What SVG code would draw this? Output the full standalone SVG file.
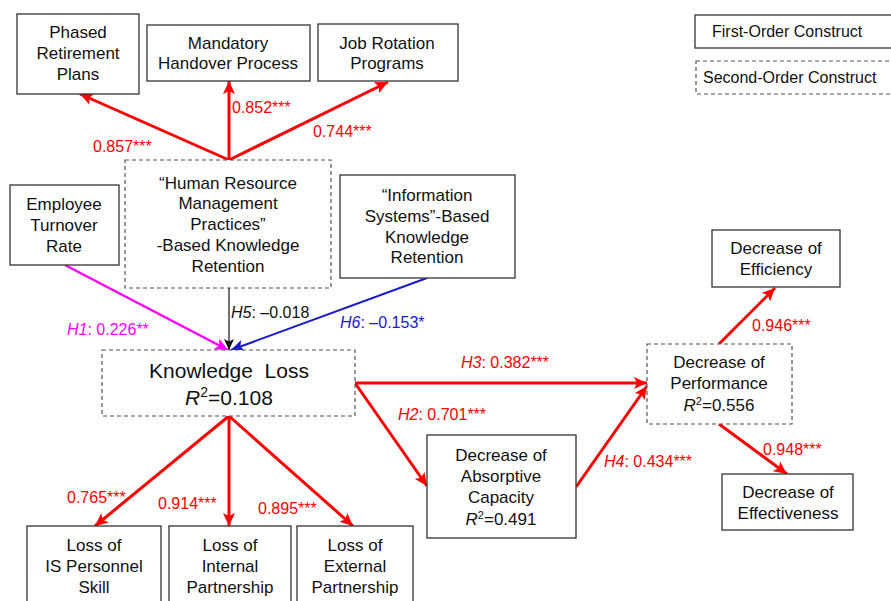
<svg xmlns="http://www.w3.org/2000/svg" width="891" height="601" viewBox="0 0 891 601">
<style>
text{font-family:"Liberation Sans",Arial,Helvetica,sans-serif;fill:#111}
.n{font-size:17px;text-anchor:middle}
.lg{font-size:16px}
.box{fill:#fff;stroke:#333;stroke-width:1.3}
.dbox{fill:#fff;stroke:#555;stroke-width:1.2;stroke-dasharray:4 3}
.lbl{font-size:16px}
.red{fill:#ff0000}
.mag{fill:#ff00ff}
.blu{fill:#1a1acc}
.blk{fill:#111}
.big{font-size:21px;text-anchor:middle}
.r{stroke:#ff0000;stroke-width:3;fill:none}
</style>
<defs>
<marker id="ar" markerUnits="userSpaceOnUse" markerWidth="14" markerHeight="12" refX="13" refY="6" orient="auto"><path d="M0,0 L13,6 L0,12 L3,6 Z" fill="#ff0000"/></marker>
<marker id="am" markerUnits="userSpaceOnUse" markerWidth="14" markerHeight="12" refX="13" refY="6" orient="auto"><path d="M0,0 L13,6 L0,12 L3,6 Z" fill="#ff00ff"/></marker>
<marker id="ab" markerUnits="userSpaceOnUse" markerWidth="14" markerHeight="12" refX="13" refY="6" orient="auto"><path d="M0,0 L13,6 L0,12 L3,6 Z" fill="#1a1acc"/></marker>
<marker id="ak" markerUnits="userSpaceOnUse" markerWidth="12" markerHeight="10" refX="11" refY="5" orient="auto"><path d="M0,0 L11,5 L0,10 L2.5,5 Z" fill="#111"/></marker>
</defs>

<g id="connectors">
<line class="r" x1="229" y1="160" x2="80" y2="94" marker-end="url(#ar)"/>
<line class="r" x1="229" y1="160" x2="229" y2="81" marker-end="url(#ar)"/>
<line class="r" x1="229" y1="160" x2="388" y2="82" marker-end="url(#ar)"/>
<line x1="65" y1="265" x2="228" y2="350" stroke="#ff00ff" stroke-width="2.5" marker-end="url(#am)"/>
<line x1="229" y1="288" x2="229" y2="350" stroke="#111" stroke-width="1.2" marker-end="url(#ak)"/>
<line x1="427" y1="278" x2="231" y2="350" stroke="#1a1acc" stroke-width="2" marker-end="url(#ab)"/>
<line class="r" x1="229" y1="416" x2="95" y2="526" marker-end="url(#ar)"/>
<line class="r" x1="229" y1="416" x2="229" y2="526" marker-end="url(#ar)"/>
<line class="r" x1="229" y1="416" x2="353" y2="526" marker-end="url(#ar)"/>
<line class="r" x1="355" y1="383" x2="647" y2="383" marker-end="url(#ar)"/>
<line class="r" x1="355" y1="383" x2="427" y2="486" marker-end="url(#ar)"/>
<line class="r" x1="576" y1="487" x2="647" y2="386" marker-end="url(#ar)"/>
<line class="r" x1="719" y1="344" x2="775" y2="288" marker-end="url(#ar)"/>
<line class="r" x1="719" y1="424" x2="787" y2="474" marker-end="url(#ar)"/>
</g>

<g id="labels">
<text class="lbl red" x="93" y="152">0.857***</text>
<text class="lbl red" x="232" y="113">0.852***</text>
<text class="lbl red" x="313" y="137">0.744***</text>
<text class="lbl mag" x="67" y="335"><tspan font-style="italic">H1</tspan>: 0.226**</text>
<text class="lbl blk" x="231" y="318"><tspan font-style="italic">H5</tspan>: –0.018</text>
<text class="lbl blu" x="340" y="328"><tspan font-style="italic">H6</tspan>: –0.153*</text>
<text class="lbl red" x="461" y="368"><tspan font-style="italic">H3</tspan>: 0.382***</text>
<text class="lbl red" x="398" y="420"><tspan font-style="italic">H2</tspan>: 0.701***</text>
<text class="lbl red" x="604" y="467"><tspan font-style="italic">H4</tspan>: 0.434***</text>
<text class="lbl red" x="752" y="331">0.946***</text>
<text class="lbl red" x="763" y="455">0.948***</text>
<text class="lbl red" x="67" y="503">0.765***</text>
<text class="lbl red" x="158" y="509">0.914***</text>
<text class="lbl red" x="258" y="514">0.895***</text>
</g>

<g id="phased">
<rect class="box" x="17" y="14" width="122" height="80"/>
<text class="n" x="78" y="38">Phased</text>
<text class="n" x="78" y="59">Retirement</text>
<text class="n" x="78" y="80">Plans</text>
</g>
<g id="mandatory">
<rect class="box" x="147" y="25" width="163" height="56"/>
<text class="n" x="228" y="49">Mandatory</text>
<text class="n" x="228" y="69">Handover Process</text>
</g>
<g id="jobrotation">
<rect class="box" x="318" y="24" width="140" height="57"/>
<text class="n" x="387" y="49">Job Rotation</text>
<text class="n" x="387" y="69">Programs</text>
</g>
<g id="legend-first">
<rect class="box" x="695" y="15" width="210" height="33"/>
<text class="lg" x="712" y="37">First-Order Construct</text>
</g>
<g id="legend-second">
<rect class="dbox" x="696" y="61" width="210" height="33"/>
<text class="lg" x="703" y="83">Second-Order Construct</text>
</g>
<g id="hrm">
<rect class="dbox" x="125" y="160" width="206" height="128"/>
<text class="n" x="228" y="189">“Human Resource</text>
<text class="n" x="228" y="209">Management</text>
<text class="n" x="228" y="230">Practices”</text>
<text class="n" x="228" y="251">-Based Knowledge</text>
<text class="n" x="228" y="272">Retention</text>
</g>
<g id="turnover">
<rect class="box" x="10" y="185" width="109" height="80"/>
<text class="n" x="64" y="210">Employee</text>
<text class="n" x="64" y="231">Turnover</text>
<text class="n" x="64" y="252">Rate</text>
</g>
<g id="is-retention">
<rect class="box" x="340" y="175" width="175" height="103"/>
<text class="n" x="427" y="201">“Information</text>
<text class="n" x="427" y="222">Systems”-Based</text>
<text class="n" x="427" y="243">Knowledge</text>
<text class="n" x="427" y="263">Retention</text>
</g>
<g id="knowledge-loss">
<rect class="dbox" x="102" y="350" width="253" height="66"/>
<text class="big" x="229" y="378" xml:space="preserve">Knowledge  Loss</text>
<text class="big" x="229" y="405"><tspan font-style="italic">R</tspan><tspan font-size="14" dy="-8">2</tspan><tspan dy="8">=0.108</tspan></text>
</g>
<g id="loss-is">
<rect class="box" x="27" y="526" width="134" height="90"/>
<text class="n" x="94" y="551">Loss of</text>
<text class="n" x="94" y="572">IS Personnel</text>
<text class="n" x="94" y="593">Skill</text>
</g>
<g id="loss-internal">
<rect class="box" x="169" y="526" width="122" height="90"/>
<text class="n" x="230" y="551">Loss of</text>
<text class="n" x="230" y="572">Internal</text>
<text class="n" x="230" y="593">Partnership</text>
</g>
<g id="loss-external">
<rect class="box" x="297" y="526" width="116" height="90"/>
<text class="n" x="355" y="551">Loss of</text>
<text class="n" x="355" y="572">External</text>
<text class="n" x="355" y="593">Partnership</text>
</g>
<g id="absorptive">
<rect class="box" x="427" y="435" width="149" height="103"/>
<text class="n" x="501" y="461">Decrease of</text>
<text class="n" x="501" y="482">Absorptive</text>
<text class="n" x="501" y="503">Capacity</text>
<text class="n" x="501" y="525"><tspan font-style="italic">R</tspan><tspan font-size="11" dy="-6">2</tspan><tspan dy="6">=0.491</tspan></text>
</g>
<g id="performance">
<rect class="dbox" x="647" y="344" width="145" height="80"/>
<text class="n" x="719" y="368">Decrease of</text>
<text class="n" x="719" y="389">Performance</text>
<text class="n" x="719" y="411"><tspan font-style="italic">R</tspan><tspan font-size="11" dy="-6">2</tspan><tspan dy="6">=0.556</tspan></text>
</g>
<g id="efficiency">
<rect class="box" x="712" y="230" width="128" height="57"/>
<text class="n" x="776" y="254">Decrease of</text>
<text class="n" x="776" y="275">Efficiency</text>
</g>
<g id="effectiveness">
<rect class="box" x="722" y="474" width="131" height="56"/>
<text class="n" x="788" y="498">Decrease of</text>
<text class="n" x="788" y="519">Effectiveness</text>
</g>
</svg>
